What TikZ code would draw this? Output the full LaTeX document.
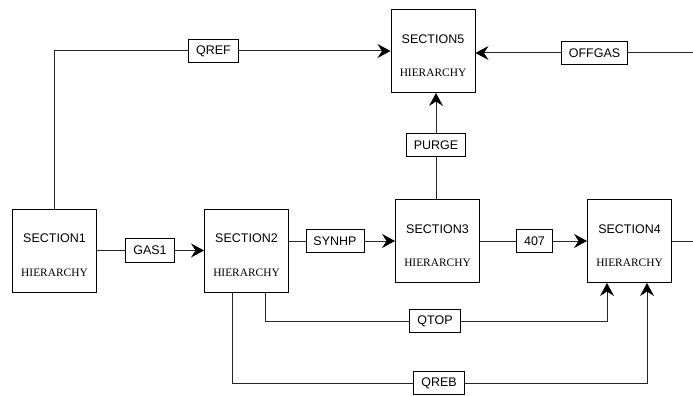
\documentclass[tikz,border=0pt]{standalone}
\usepackage{fontspec}
\setmainfont{Liberation Serif}
\setsansfont{Liberation Sans}
\usetikzlibrary{arrows.meta}

\begin{document}
\begin{tikzpicture}[x=1pt,y=-1pt,
  section/.style={draw,line width=1pt,minimum width=84pt,minimum height=83pt,inner sep=0pt},
  title/.style={font=\sffamily\fontsize{12.5}{14}\selectfont},
  hier/.style={font=\rmfamily\fontsize{11.4}{13}\selectfont},
  stream/.style={draw,fill=white,line width=0.9pt,font=\sffamily\fontsize{12.5}{14}\selectfont,
    inner xsep=7.5pt,inner ysep=0pt,minimum height=23.5pt},
  flow/.style={draw=black!85,line width=1pt},
  feed/.style={flow,-{Stealth[length=13pt,width=14pt,inset=4.5pt,black]}},
  ]
  \useasboundingbox (0,0) rectangle (693,396);
  % hierarchy blocks
  \node[section] (s1) at (54.5,250.5) {};
  \node[section] (s2) at (246.5,250.5) {};
  \node[section] (s3) at (437.5,241) {};
  \node[section] (s4) at (629.5,241) {};
  \node[section] (s5) at (433,51) {};
  \foreach \s/\n in {s1/1,s2/2,s3/3,s4/4,s5/5} {
    \node[title] (\s t) at ([yshift=-30pt]\s.north) {SECTION\n};
    \node[hier] (\s h) at ([yshift=-64pt]\s.north) {HIERARCHY};
  }
  % stream labels
  \node[stream] (qref) at (213.5,51) {QREF};
  \node[stream] (offgas) at (594.5,53) {OFFGAS};
  \node[stream] (purge) at (436,145) {PURGE};
  \node[stream] (gas1) at (150,250.5) {GAS1};
  \node[stream] (synhp) at (335,241) {SYNHP};
  \node[stream] (n407) at (534.5,241) {407};
  \node[stream] (qtop) at (435,321) {QTOP};
  \node[stream] (qreb) at (439,383) {QREB};
  % free ends
  \coordinate (ogin) at (693,53);
  \coordinate (s4out) at (693,241);
  \coordinate (topout) at ([xshift=18.5pt]s2.south);
  \coordinate (rebout) at ([xshift=-14.5pt]s2.south);
  \coordinate (topin) at ([xshift=-22.5pt]s4.south);
  \coordinate (rebin) at ([xshift=17.5pt]s4.south);
  % streams
  \draw[flow] (s1.north) |- (qref);
  \draw[feed] (qref) -- (s5.west |- qref);
  \draw[flow] (ogin) -- (offgas);
  \draw[feed] (offgas) -- (s5.east |- offgas);
  \draw[flow] (s3.north -| purge) -- (purge);
  \draw[feed] (purge) -- (s5.south -| purge);
  \draw[flow] (s1.east |- gas1) -- (gas1);
  \draw[feed] (gas1) -- (s2.west |- gas1);
  \draw[flow] (s2.east |- synhp) -- (synhp);
  \draw[feed] (synhp) -- (s3);
  \draw[flow] (s3) -- (n407);
  \draw[feed] (n407) -- (s4);
  \draw[flow] (s4) -- (s4out);
  \draw[flow] (topout) |- (qtop);
  \draw[feed] (qtop) -| (topin);
  \draw[flow] (rebout) |- (qreb);
  \draw[feed] (qreb) -| (rebin);
\end{tikzpicture}
\end{document}
